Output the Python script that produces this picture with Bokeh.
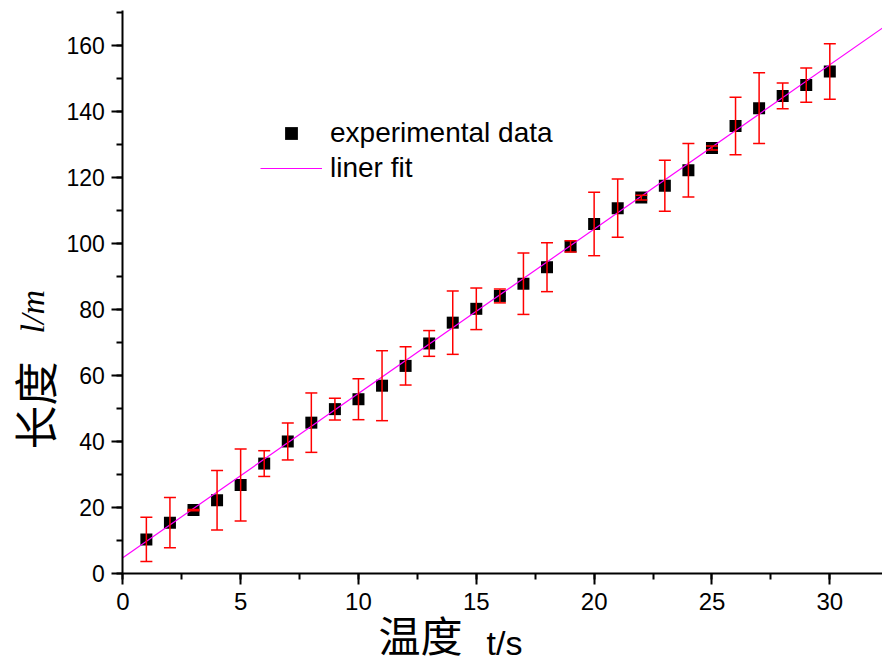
import numpy as np
from bokeh.plotting import figure
from bokeh.models import (Range1d, SingleIntervalTicker, Label, Legend, LegendItem,
                          Whisker, ColumnDataSource, TeeHead)
from bokeh.embed import file_html
from bokeh.resources import INLINE

# ---- data ----
t_values = list(range(1, 31))
length_values = [10.4, 15.5, 19.3, 22.3, 26.9, 33.4, 40.1, 45.8, 49.9, 52.9,
                 57.0, 63.0, 69.8, 76.1, 80.3, 84.2, 87.9, 92.9, 99.2, 106.0,
                 110.8, 114.0, 117.6, 122.3, 129.0, 135.7, 141.1, 144.8, 148.1, 152.2]
length_errors = [6.7, 7.6, 0.2, 9.0, 10.9, 3.9, 5.6, 9.0, 3.3, 6.2,
                 10.6, 5.8, 3.9, 9.6, 6.3, 2.1, 9.3, 7.4, 1.7, 9.6,
                 8.8, 0.7, 7.7, 8.1, 0.6, 8.7, 10.7, 3.9, 5.2, 8.4]
fit_intercept = 4.85
fit_slope = 4.98
x_axis_extent = [0, 32.25]     # visible x axis
y_axis_extent = [0, 170.7]     # visible y axis
legend_labels = ["experimental data", "liner fit"]
x_title_cjk, x_title_unit = "温度", "t/s"
y_title_cjk, y_title_unit = "长度", "l/m"

lower = [v - e for v, e in zip(length_values, length_errors)]
upper = [v + e for v, e in zip(length_values, length_errors)]
src = ColumnDataSource(dict(t=t_values, v=length_values, lo=lower, hi=upper))

fit_x = x_axis_extent
fit_y = [fit_intercept + fit_slope * x for x in fit_x]

W, H = 882, 665
X0, Y0 = 122.3, 573.3          # pixel position of the origin
SX, SY = 23.567, 3.3           # pixels per unit
x_rng = Range1d(-X0 / SX, (W - X0) / SX)
y_rng = Range1d((Y0 - H) / SY, Y0 / SY)

p = figure(width=W, height=H, output_backend="svg", toolbar_location=None,
           x_range=x_rng, y_range=y_rng, min_border=0)
p.min_border_left = 0
p.min_border_right = 0
p.min_border_top = 0
p.min_border_bottom = 0
p.outline_line_color = None
p.xgrid.visible = False
p.ygrid.visible = False
p.background_fill_color = "white"
p.border_fill_color = "white"

sq = p.scatter("t", "v", source=src, marker="square", size=12,
               fill_color="black", line_color=None)
ln = p.line(fit_x, fit_y, line_color="#ff00ff", line_width=1.2)

wh = Whisker(base="t", lower="lo", upper="hi", source=src, dimension="height",
             line_color="#ff0000", line_width=1.5, level="overlay",
             upper_head=TeeHead(size=12, line_color="#ff0000", line_width=1.5),
             lower_head=TeeHead(size=12, line_color="#ff0000", line_width=1.5))
p.add_layout(wh)

for ax, interval, bnds in ((p.xaxis[0], 5, x_axis_extent), (p.yaxis[0], 20, y_axis_extent)):
    ax.fixed_location = 0
    ax.bounds = tuple(bnds)
    ax.ticker = SingleIntervalTicker(interval=interval, num_minor_ticks=2)
    ax.axis_line_width = 2
    ax.axis_line_color = "black"
    ax.major_tick_line_width = 2
    ax.minor_tick_line_width = 2
    ax.major_tick_out = 11
    ax.major_tick_in = 0
    ax.minor_tick_out = 6
    ax.minor_tick_in = 0
    ax.major_label_text_font = "Liberation Sans"
    ax.major_label_text_color = "black"
p.xaxis.major_label_text_font_size = "24px"
p.yaxis.major_label_text_font_size = "23px"
p.xaxis.major_label_standoff = 8
p.yaxis.major_label_standoff = 7

legend = Legend(items=[LegendItem(label=legend_labels[0], renderers=[sq]),
                       LegendItem(label=legend_labels[1], renderers=[ln])],
                location=(260, 481), border_line_color=None, background_fill_alpha=0,
                padding=0, margin=0, spacing=3, glyph_width=62, glyph_height=32,
                label_standoff=8, label_text_font="Liberation Sans",
                label_text_font_size="28px", label_text_color="black")
p.add_layout(legend)

# axis titles as separate labels (mixed fonts), in canvas pixels
common = dict(x_units="canvas", y_units="canvas", text_color="black", text_baseline="middle")
p.add_layout(Label(x=378, y=633, text=x_title_cjk, text_font="Noto Sans CJK SC",
                   text_font_size="42px", text_align="left", **common))
p.add_layout(Label(x=486, y=642, text=x_title_unit, text_font="Liberation Sans",
                   text_font_size="34px", text_align="left", **common))
p.add_layout(Label(x=33, y=449, text=y_title_cjk, text_font="Noto Sans CJK SC",
                   text_font_size="44px", text_align="left",
                   angle=np.pi / 2, **common))
p.add_layout(Label(x=31.5, y=333, text=y_title_unit, text_font="Liberation Serif",
                   text_font_style="italic", text_font_size="34px", text_align="left",
                   angle=np.pi / 2, **common))

open("out.html", "w").write(file_html(p, INLINE))
